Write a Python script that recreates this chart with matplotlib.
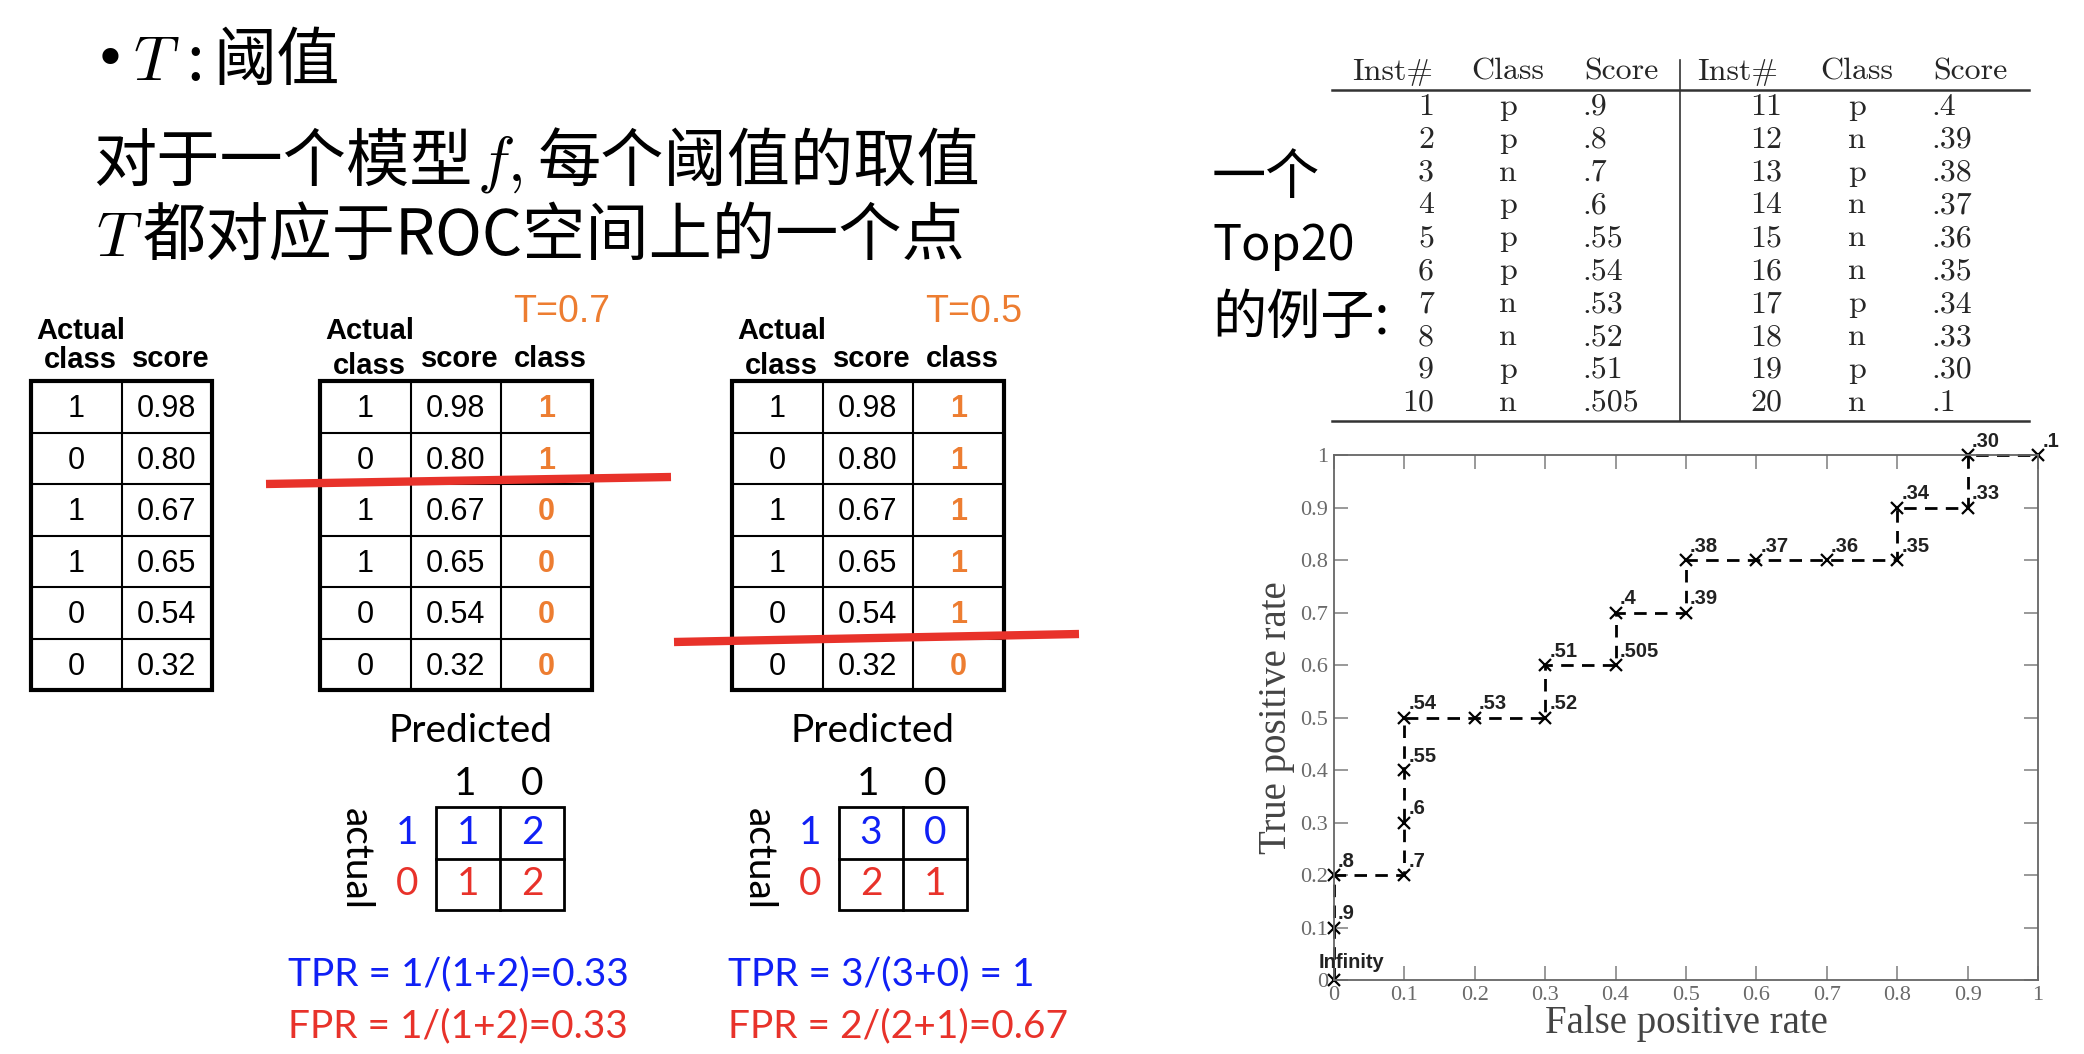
import matplotlib
matplotlib.use('Agg')
import matplotlib.pyplot as plt
from matplotlib.patches import Rectangle

plt.rcParams['font.family'] = ['Noto Sans CJK SC', 'DejaVu Sans']
plt.rcParams['mathtext.fontset'] = 'cm'

# small example tables
actual = [1, 0, 1, 1, 0, 0]
scores = ['0.98', '0.80', '0.67', '0.65', '0.54', '0.32']
pred_t07 = [1, 1, 0, 0, 0, 0]
pred_t05 = [1, 1, 1, 1, 1, 0]

# confusion matrices (rows: actual 1, 0; cols: predicted 1, 0)
cm_t07 = [[1, 2], [1, 2]]
cm_t05 = [[3, 0], [2, 1]]
rates_t07 = ['TPR = 1/(1+2)=0.33', 'FPR = 1/(1+2)=0.33']
rates_t05 = ['TPR = 3/(3+0) = 1', 'FPR = 2/(2+1)=0.67']

# top20 table
inst = list(range(1, 21))
cls = ['p', 'p', 'n', 'p', 'p', 'p', 'n', 'n', 'p', 'n',
       'p', 'n', 'p', 'n', 'n', 'n', 'p', 'n', 'p', 'n']
score20 = ['.9', '.8', '.7', '.6', '.55', '.54', '.53', '.52', '.51', '.505',
           '.4', '.39', '.38', '.37', '.36', '.35', '.34', '.33', '.30', '.1']

# ROC points
fpr = [0, 0, 0, 0.1, 0.1, 0.1, 0.1, 0.2, 0.3, 0.3, 0.4,
       0.4, 0.5, 0.5, 0.6, 0.7, 0.8, 0.8, 0.9, 0.9, 1.0]
tpr = [0, 0.1, 0.2, 0.2, 0.3, 0.4, 0.5, 0.5, 0.5, 0.6, 0.6,
       0.7, 0.7, 0.8, 0.8, 0.8, 0.8, 0.9, 0.9, 1.0, 1.0]
pt_labels = ['Infinity'] + score20
ticks = [0, 0.1, 0.2, 0.3, 0.4, 0.5, 0.6, 0.7, 0.8, 0.9, 1]
tick_labels = ['0', '0.1', '0.2', '0.3', '0.4', '0.5', '0.6', '0.7', '0.8', '0.9', '1']

ORANGE = '#ED7D31'
RED = '#E8322A'
BLUE = '#1020F5'
NARROW = ['Liberation Sans Narrow', 'Liberation Sans']
CALI = ['Lato', 'DejaVu Sans']

fig = plt.figure(figsize=(20.84, 10.54), dpi=100)
ax0 = fig.add_axes([0, 0, 1, 1])
ax0.set_xlim(0, 2084)
ax0.set_ylim(1054, 0)
ax0.axis('off')

# heading text
big = 45.5
ax0.text(94, 62, '•', fontsize=40, ha='left', va='center', family='DejaVu Sans')
for s, x, y in [('$T$', 133, 62), (':', 186, 62), ('阈值', 213, 62),
                ('对于一个模型', 93, 163), ('$f,$', 477, 163),
                ('每个阈值的取值', 538, 163),
                ('$T$', 96, 238), ('都对应于ROC空间上的一个点', 143, 238)]:
    ax0.text(x, y, s, fontsize=big, ha='left', va='center')

for s, y, fs in [('一个', 178, 39), ('Top20', 246, 35), ('的例子:', 318, 39)]:
    ax0.text(1212, y, s, fontsize=fs, ha='left', va='center')


def draw_table(x0, cols, colors, weights):
    col_w, row_h, y0 = 90.5, 51.5, 381
    n = len(cols[0])
    W, H = col_w * len(cols), row_h * n
    for i in range(1, n):
        ax0.plot([x0, x0 + W], [y0 + i * row_h] * 2, color='k', lw=1.5)
    for j in range(1, len(cols)):
        ax0.plot([x0 + j * col_w] * 2, [y0, y0 + H], color='k', lw=1.5)
    ax0.add_patch(Rectangle((x0, y0), W, H, fill=False, lw=3, ec='k'))
    for j, col in enumerate(cols):
        for i, v in enumerate(col):
            ax0.text(x0 + (j + 0.5) * col_w, y0 + (i + 0.55) * row_h, str(v),
                     ha='center', va='center', fontsize=22, family=NARROW,
                     color=colors[j], fontweight=weights[j])


def header(x0, ncol, thr=None):
    col_w = 90.5
    hk = dict(ha='center', va='center', fontsize=21, family=NARROW, fontweight='bold')
    ax0.text(x0 + 0.55 * col_w, 331, 'Actual', **hk)
    ax0.text(x0 + 0.55 * col_w, 360 if ncol == 2 else 366, 'class', **hk)
    ax0.text(x0 + 1.55 * col_w, 359, 'score', **hk)
    if ncol == 3:
        ax0.text(x0 + 2.55 * col_w, 359, 'class', **hk)
        ax0.text(x0 + 2.67 * col_w, 312, thr, ha='center', va='center',
                 fontsize=27, family=NARROW, color=ORANGE)


draw_table(31, [actual, scores], ['k', 'k'], ['normal', 'normal'])
header(31, 2)
draw_table(320, [actual, scores, pred_t07], ['k', 'k', ORANGE], ['normal', 'normal', 'bold'])
header(320, 3, 'T=0.7')
draw_table(732, [actual, scores, pred_t05], ['k', 'k', ORANGE], ['normal', 'normal', 'bold'])
header(732, 3, 'T=0.5')

# threshold cut lines
ax0.plot([266, 671], [484, 477], color=RED, lw=6, solid_capstyle='butt')
ax0.plot([674, 1079], [642, 634], color=RED, lw=6, solid_capstyle='butt')


def confusion(x0, cm, rates, rx):
    cw, ch, y0 = 64, 51.5, 807
    fk = dict(ha='center', va='center', fontsize=28, family=CALI)
    ax0.text(x0 + 34, 731, 'Predicted', **fk)
    ax0.text(x0 + 0.45 * cw, 784, '1', **fk)
    ax0.text(x0 + 1.5 * cw, 784, '0', **fk)
    ax0.text(x0 - 80, y0 + ch, 'actual', rotation=-90, **fk)
    row_cols = [BLUE, RED]
    for i, lab in enumerate(['1', '0']):
        ax0.text(x0 - 29, y0 + (i + 0.5) * ch, lab, color=row_cols[i], **fk)
        for j in range(2):
            ax0.text(x0 + (j + 0.5) * cw, y0 + (i + 0.5) * ch, str(cm[i][j]),
                     color=row_cols[i], **fk)
    ax0.plot([x0, x0 + 2 * cw], [y0 + ch] * 2, color='k', lw=2)
    ax0.plot([x0 + cw] * 2, [y0, y0 + 2 * ch], color='k', lw=2)
    ax0.add_patch(Rectangle((x0, y0), 2 * cw, 2 * ch, fill=False, lw=2, ec='k'))
    rk = dict(ha='left', va='center', fontsize=28, family=CALI)
    ax0.text(rx, 974, rates[0], color=BLUE, **rk)
    ax0.text(rx, 1026, rates[1], color=RED, **rk)


confusion(436, cm_t07, rates_t07, 288)
confusion(839, cm_t05, rates_t05, 728)

# top-20 table
tk = dict(va='center', fontsize=23, family=['cmr10', 'DejaVu Serif'], color='#262626')
ax0.plot([1332, 2029], [90, 90], color='#333333', lw=1.8)
ax0.plot([1332, 2029], [421, 421], color='#333333', lw=1.8)
ax0.plot([1680, 1680], [60, 421], color='#333333', lw=1.2)
for x, s in zip([1393, 1508, 1621, 1738, 1857, 1970],
                ['Inst#', 'Class', 'Score', 'Inst#', 'Class', 'Score']):
    ax0.text(x, 72, s, ha='center', **tk)
for k in range(20):
    half = k // 10
    y = 107 + (k % 10) * 32.9
    ax0.text([1434, 1782][half], y, str(inst[k]), ha='right', **tk)
    ax0.text([1508, 1857][half], y, cls[k], ha='center', **tk)
    ax0.text([1582, 1931][half], y, score20[k], ha='left', **tk)

# ROC curve
ax = fig.add_axes([0.640, 0.0702, 0.338, 0.498])
ax.plot(fpr, tpr, color='k', ls='--', lw=2, dashes=(4.5, 3), marker='x',
        ms=9, mew=1.6, clip_on=False)
for x, y, s in zip(fpr, tpr, pt_labels):
    off = (-11, 6) if s == 'Infinity' else (3, 3)
    ax.annotate(s, (x, y), xytext=off, textcoords='offset points',
                ha='left', va='bottom', fontsize=14.5, fontweight='bold',
                family=['Liberation Sans', 'DejaVu Sans'], color='#222222',
                annotation_clip=False)
ax.set_xlim(0, 1)
ax.set_ylim(0, 1)
ax.set_xticks(ticks)
ax.set_xticklabels(tick_labels)
ax.set_yticks(ticks)
ax.set_yticklabels(tick_labels)
ax.tick_params(direction='in', length=10, width=1.2, color='#888888', top=True, right=True,
               labelsize=16, labelcolor='#6a6a6a', pad=4)
for t in ax.get_xticklabels() + ax.get_yticklabels():
    t.set_family(['Liberation Serif', 'DejaVu Serif'])
for sp in ax.spines.values():
    sp.set_color('#666666')
    sp.set_linewidth(1.3)
ax.set_xlabel('False positive rate', fontsize=28, family=['Liberation Serif', 'DejaVu Serif'],
              color='#444444', labelpad=0)
ax.set_ylabel('True positive rate', fontsize=28, family=['Liberation Serif', 'DejaVu Serif'],
              color='#444444', labelpad=4)

fig.savefig('out.png', dpi=100)
